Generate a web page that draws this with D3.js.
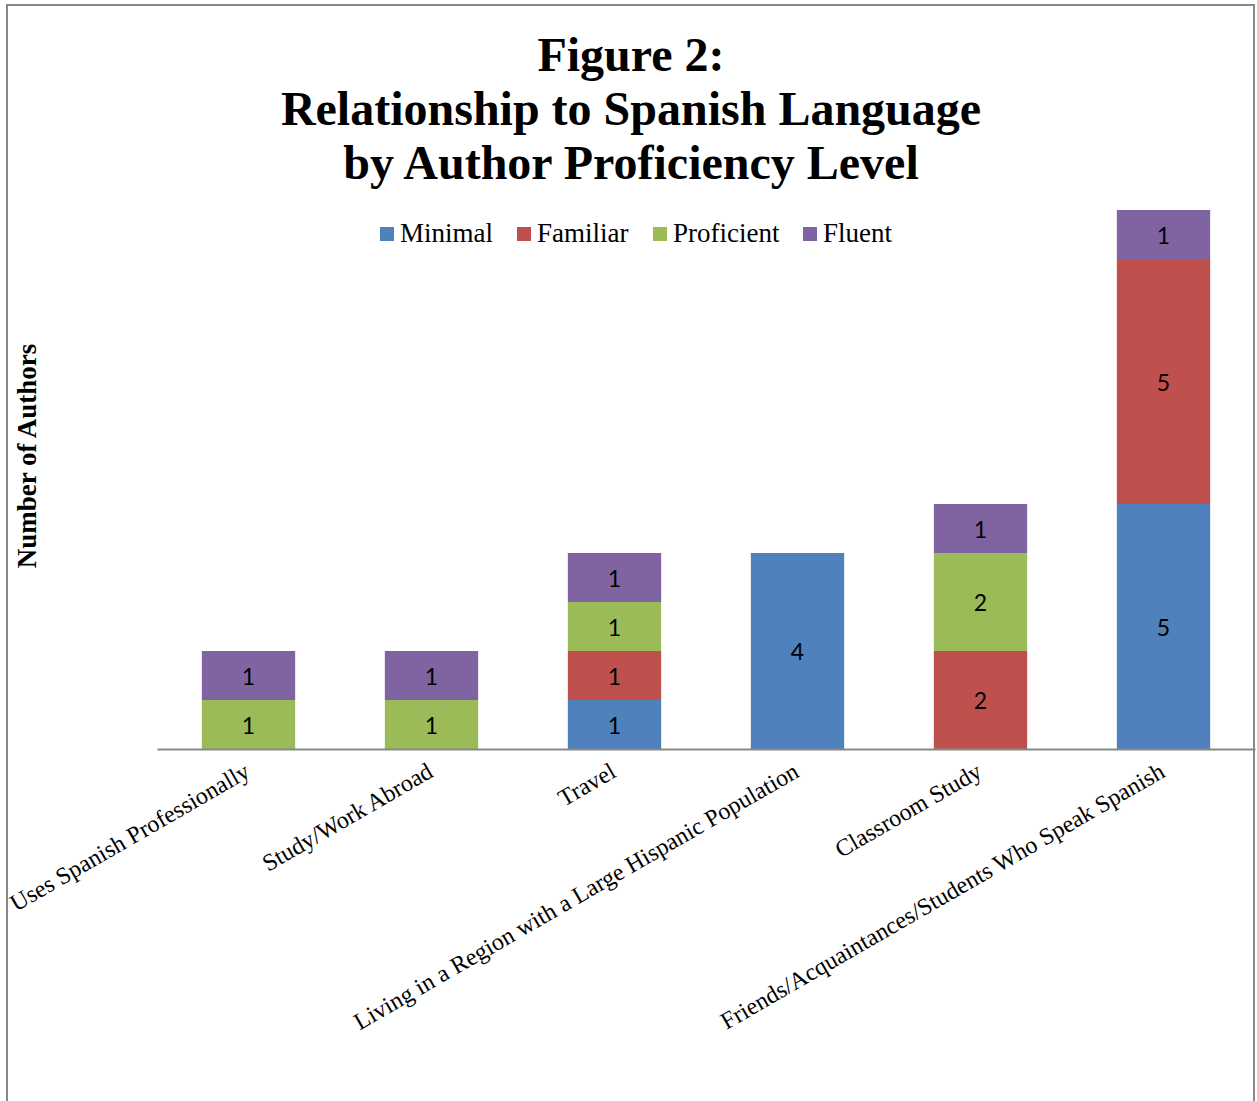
<!DOCTYPE html>
<html>
<head>
<meta charset="utf-8">
<script src="https://cdn.jsdelivr.net/npm/d3@7"></script>
<style>
  body { margin: 0; background: #fff; }
  svg { display: block; }
</style>
</head>
<body>
<div id="chart"></div>
<script>
const categories = [
  'Uses Spanish Professionally',
  'Study/Work Abroad',
  'Travel',
  'Living in a Region with a Large Hispanic Population',
  'Classroom Study',
  'Friends/Acquaintances/Students Who Speak Spanish'
];
const seriesNames = ['Minimal', 'Familiar', 'Proficient', 'Fluent'];
const minimal    = [0, 0, 1, 4, 0, 5];
const familiar   = [0, 0, 1, 0, 2, 5];
const proficient = [1, 1, 1, 0, 2, 0];
const fluent     = [1, 1, 1, 0, 1, 1];
const colors = ['#4F81BD', '#C0504D', '#9BBB59', '#8064A2'];

const width = 1257, height = 1101;
const margin = { left: 157, right: 2, top: 210, bottom: 352 };
const serif = '"Liberation Serif", "Times New Roman", serif';

const svg = d3.select('#chart').append('svg')
  .attr('width', width)
  .attr('height', height);

// outer frame
svg.append('rect')
  .attr('x', 7).attr('y', 5)
  .attr('width', 1247).attr('height', 1110)
  .attr('fill', 'none')
  .attr('stroke', '#878787')
  .attr('stroke-width', 2);

// title
const title = svg.append('text')
  .attr('text-anchor', 'middle')
  .attr('font-family', serif)
  .attr('font-weight', 'bold')
  .attr('font-size', 48);
['Figure 2:', 'Relationship to Spanish Language', 'by Author Proficiency Level'].forEach((t, i) => {
  title.append('tspan').attr('x', 631).attr('y', 71 + i * 54).text(t);
});

const rows = categories.map((c, i) => ({
  cat: c,
  Minimal: minimal[i],
  Familiar: familiar[i],
  Proficient: proficient[i],
  Fluent: fluent[i]
}));

const stack = d3.stack().keys(seriesNames);
const layers = stack(rows);

const x = d3.scaleBand()
  .domain(categories)
  .range([margin.left, width - margin.right])
  .paddingInner(0.49)
  .paddingOuter(0.245);

const y = d3.scaleLinear()
  .domain([0, 11])
  .range([height - margin.bottom, margin.top]);

const layerG = svg.selectAll('g.layer')
  .data(layers)
  .enter().append('g')
  .attr('class', 'layer')
  .attr('fill', (d, i) => colors[i]);

layerG.selectAll('rect')
  .data(d => d.filter(p => p[1] - p[0] > 0))
  .enter().append('rect')
  .attr('x', d => x(d.data.cat))
  .attr('y', d => y(d[1]))
  .attr('width', x.bandwidth())
  .attr('height', d => y(d[0]) - y(d[1]));

layerG.selectAll('text')
  .data(d => d.filter(p => p[1] - p[0] > 0))
  .enter().append('text')
  .attr('x', d => x(d.data.cat) + x.bandwidth() / 2)
  .attr('y', d => (y(d[0]) + y(d[1])) / 2)
  .attr('dy', '0.4em')
  .attr('text-anchor', 'middle')
  .attr('fill', '#000')
  .attr('font-family', 'Lato, "Open Sans", sans-serif')
  .attr('font-size', 23)
  .text(d => d[1] - d[0]);

// x axis baseline
const xAxis = svg.append('g')
  .attr('transform', `translate(0,${y(0)})`)
  .call(d3.axisBottom(x).tickSize(0).tickPadding(0));
xAxis.select('.domain')
  .attr('stroke', '#878787')
  .attr('stroke-width', 2);
xAxis.selectAll('.tick text')
  .attr('font-family', serif)
  .attr('font-size', 24)
  .attr('fill', '#000')
  .attr('text-anchor', 'end')
  .attr('dy', 0)
  .attr('transform', 'translate(3,27) rotate(-30)');

// y axis title
svg.append('text')
  .attr('transform', 'translate(36,456) rotate(-90)')
  .attr('text-anchor', 'middle')
  .attr('font-family', serif)
  .attr('font-weight', 'bold')
  .attr('font-size', 27)
  .text('Number of Authors');

// legend
const legend = svg.append('g')
  .attr('font-family', serif)
  .attr('font-size', 27);
const legendX = [380, 517, 653, 803];
seriesNames.forEach((s, i) => {
  const g = legend.append('g').attr('transform', `translate(${legendX[i]},227)`);
  g.append('rect').attr('width', 14).attr('height', 14).attr('fill', colors[i]);
  g.append('text').attr('x', 20).attr('y', 15).text(s);
});
</script>
</body>
</html>
